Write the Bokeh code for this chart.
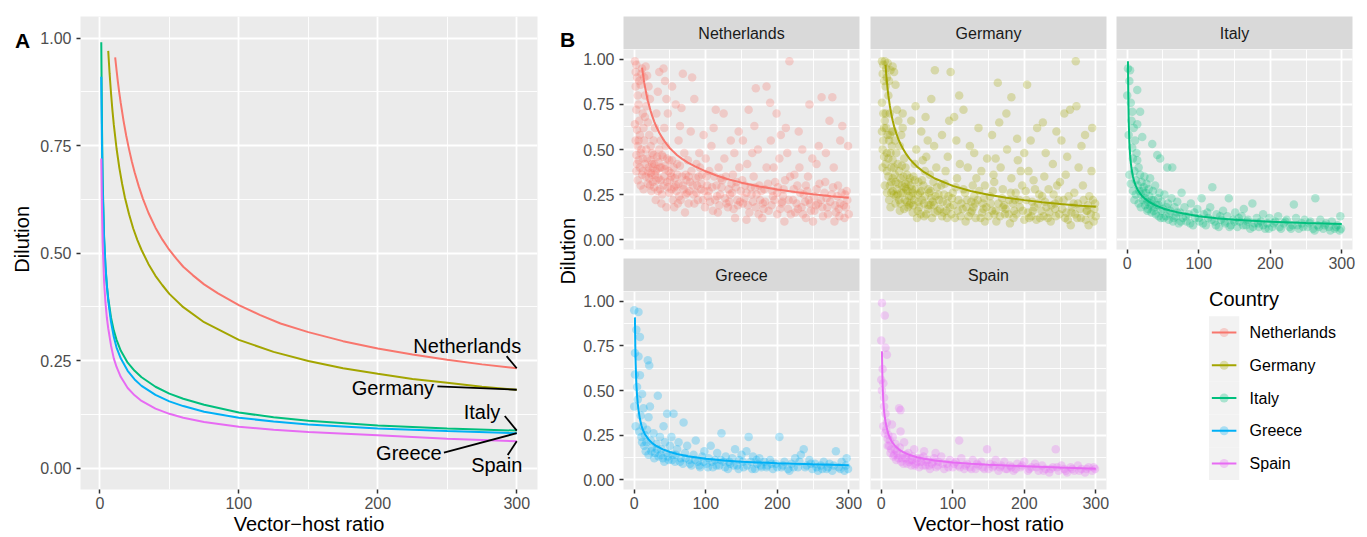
import math
from bokeh.plotting import figure
from bokeh.layouts import row, column
from bokeh.models import Range1d, FixedTicker, Label, PrintfTickFormatter
from bokeh.embed import file_html
from bokeh.resources import INLINE
from bokeh.core.properties import value

FONT = "Liberation Sans"

countries = ["Netherlands", "Germany", "Italy", "Greece", "Spain"]
colors = ["#F8766D", "#A3A500", "#00BF7D", "#00B0F6", "#E76BF3"]

x_ticks = [0, 100, 200, 300]
x_minor_ticks = [50, 150, 250]
y_ticks = [0.0, 0.25, 0.5, 0.75, 1.0]
y_minor_ticks = [0.125, 0.375, 0.625, 0.875]

# ---- fitted dilution curves ----
nl_curve_x = [11, 12, 13, 14, 15, 17, 19, 21, 23, 25, 28, 31, 35, 40, 45, 50, 55, 60, 67, 75, 85, 100,
              115, 130, 150, 175, 200, 225, 250, 275, 300]
nl_curve_y = [0.955, 0.925, 0.897, 0.872, 0.849, 0.808, 0.772, 0.741, 0.713, 0.688, 0.655, 0.626, 0.593,
              0.559, 0.531, 0.507, 0.487, 0.468, 0.448, 0.427, 0.406, 0.379, 0.356, 0.336, 0.316, 0.295,
              0.278, 0.264, 0.252, 0.241, 0.232]
de_curve_x = [6, 7, 8, 9, 10, 12, 14, 16, 18, 21, 24, 27, 30, 35, 40, 45, 50, 60, 75, 100, 125, 150, 175,
              200, 225, 250, 275, 300]
de_curve_y = [0.970, 0.917, 0.872, 0.833, 0.799, 0.743, 0.698, 0.661, 0.629, 0.590, 0.557, 0.530, 0.507,
              0.474, 0.447, 0.425, 0.405, 0.374, 0.339, 0.298, 0.270, 0.249, 0.232, 0.219, 0.207, 0.198,
              0.189, 0.182]
it_curve_x = [1, 1.5, 2, 3, 4, 5, 6, 8, 10, 12, 15, 20, 25, 30, 40, 50, 60, 75, 100, 125, 150, 200, 250, 300]
it_curve_y = [0.99, 0.80, 0.67, 0.54, 0.47, 0.425, 0.395, 0.35, 0.32, 0.298, 0.273, 0.245, 0.226, 0.211,
              0.189, 0.173, 0.161, 0.147, 0.129, 0.118, 0.110, 0.099, 0.092, 0.087]
gr_curve_x = [1, 1.5, 2, 3, 4, 5, 6, 8, 10, 12, 15, 20, 25, 30, 40, 50, 60, 75, 100, 125, 150, 200, 250, 300]
gr_curve_y = [0.91, 0.75, 0.65, 0.535, 0.47, 0.425, 0.39, 0.34, 0.305, 0.28, 0.255, 0.226, 0.206, 0.191,
              0.170, 0.155, 0.144, 0.131, 0.117, 0.108, 0.101, 0.092, 0.086, 0.081]
sp_curve_x = [1, 1.5, 2, 3, 4, 5, 6, 8, 10, 12, 15, 20, 25, 30, 40, 50, 60, 75, 100, 125, 150, 200, 250, 300]
sp_curve_y = [0.72, 0.60, 0.525, 0.435, 0.385, 0.35, 0.325, 0.285, 0.255, 0.235, 0.212, 0.186, 0.169, 0.156,
              0.138, 0.126, 0.117, 0.107, 0.096, 0.089, 0.084, 0.076, 0.068, 0.062]

nl_obs = [
    (1, .99), (2, .93), (3, .97), (4, .90), (2, .85), (5, .80), (3, .72), (6, .75), (1, .64), (4, .61),
    (7, .66), (2, .55), (5, .52), (8, .58), (3, .47), (6, .44), (9, .86), (10, .92), (11, .95), (12, .70),
    (13, .62), (10, .50), (14, .55), (8, .40), (12, .45), (15, .80), (11, .36), (7, .88), (14, .90), (15, .68),
    (16, .96), (18, .91), (20, .85), (22, .78), (17, .74), (19, .65), (21, .58), (23, .52), (25, .48), (18, .45),
    (20, .40), (24, .36), (26, .32), (22, .30), (28, .42), (30, .38), (27, .55), (29, .62), (31, .70), (33, .82),
    (35, .93), (32, .46), (34, .34), (36, .28), (38, .40), (37, .55), (39, .25), (24, .27), (30, .22), (35, .50),
    (41, .95), (43, .88), (45, .78), (47, .70), (42, .62), (44, .52), (46, .45), (48, .38), (50, .33), (52, .28),
    (54, .22), (56, .18), (58, .30), (60, .42), (62, .55), (64, .63), (66, .73), (68, .92), (70, .48), (72, .36),
    (74, .26), (76, .20), (78, .32), (41, .30), (49, .26), (55, .40), (63, .24), (67, .35), (71, .15), (75, .44),
    (79, .60), (53, .85), (58, .75), (45, .18), (61, .20),
    (81, .90), (84, .78), (87, .42), (90, .35), (93, .28), (96, .22), (99, .18), (102, .30), (105, .38), (108, .52),
    (111, .62), (114, .72), (117, .15), (120, .25), (123, .33), (126, .45), (129, .20), (132, .28), (135, .55), (138, .36),
    (141, .12), (144, .22), (147, .40), (84, .20), (91, .48), (97, .58), (103, .24), (110, .16), (118, .40), (125, .70),
    (131, .18), (137, .26), (143, .32), (149, .27), (88, .30), (100, .45), (115, .30), (128, .35), (140, .48), (146, .60),
    (152, .20), (155, .30), (158, .42), (161, .15), (164, .25), (167, .35), (170, .18), (173, .50), (176, .22), (179, .12),
    (182, .28), (185, .40), (188, .16), (191, .55), (194, .24), (197, .32), (200, .14), (203, .45), (206, .20), (209, .28),
    (212, .62), (215, .17), (218, .35), (217, .99), (160, .72), (170, .84), (190, .76), (205, .58), (165, .48), (180, .20),
    (195, .40), (210, .10), (157, .11), (175, .30), (200, .26), (185, .85), (199, .70), (214, .48), (152, .55), (168, .63),
    (222, .22), (225, .15), (228, .30), (231, .40), (234, .18), (237, .25), (240, .12), (243, .35), (246, .20), (249, .45),
    (252, .16), (255, .28), (258, .52), (261, .22), (264, .13), (267, .32), (270, .18), (273, .66), (276, .25), (279, .40),
    (282, .15), (285, .30), (288, .20), (291, .63), (294, .12), (297, .27), (299, .52), (262, .79), (277, .79), (245, .75),
    (230, .60), (255, .42), (288, .55), (268, .48), (224, .36), (240, .30), (280, .10), (296, .18), (250, .10), (235, .50),
    (3, .38), (5, .33), (9, .30), (13, .28), (16, .35), (19, .31), (23, .44), (26, .40), (28, .29), (31, .33),
    (33, .27), (36, .40), (38, .20), (40, .46), (42, .35), (44, .41), (47, .29), (51, .37), (53, .44), (57, .34),
    (59, .27), (62, .31), (65, .22), (69, .28), (73, .33), (77, .27), (80, .38), (83, .25), (86, .34), (89, .22),
    (92, .40), (94, .31), (98, .27), (101, .35), (106, .21), (109, .29), (112, .35), (116, .24), (119, .19), (122, .29),
    (127, .23), (133, .21), (136, .31), (139, .17), (142, .29), (148, .21), (151, .33), (154, .23), (159, .19), (163, .29),
    (166, .21), (171, .25), (174, .14), (178, .27), (183, .21), (187, .31), (192, .19), (196, .22), (201, .29), (204, .17),
    (208, .24), (211, .33), (216, .22), (219, .14), (223, .28), (227, .20), (232, .26), (236, .14), (239, .21), (242, .27),
    (247, .16), (251, .24), (254, .19), (259, .31), (263, .18), (266, .26), (271, .14), (274, .21), (278, .29), (281, .19),
    (284, .24), (287, .13), (290, .26), (293, .19), (298, .22), (300, .14),
    (4, .42), (6, .55), (9, .48), (12, .38), (15, .42), (17, .50), (19, .38), (21, .34), (23, .37), (25, .42),
    (27, .47), (29, .36), (32, .39), (34, .43), (37, .33), (39, .47), (43, .39), (46, .32), (49, .44), (52, .35),
    (56, .29), (60, .36), (64, .41), (68, .30), (72, .25), (76, .35), (82, .30), (87, .26), (95, .36), (104, .27),
    (113, .22), (121, .34), (134, .25), (145, .19), (157, .26), (169, .29), (181, .17), (193, .27), (207, .21), (229, .17),
    (244, .22), (257, .20), (269, .23), (286, .17), (295, .25),
]
de_obs = [
    (1, .99), (3, .97), (5, .99), (7, .95), (9, .98), (2, .92), (4, .88), (6, .85), (8, .90), (10, .80),
    (1, .76), (3, .70), (5, .66), (7, .62), (9, .58), (11, .55), (2, .50), (4, .46), (6, .42), (8, .38),
    (10, .35), (12, .70), (13, .48), (14, .40), (15, .60), (11, .88), (13, .94), (15, .52), (12, .30), (14, .32),
    (16, .96), (18, .93), (20, .86), (22, .72), (24, .66), (17, .60), (19, .55), (21, .48), (23, .42), (25, .38),
    (27, .34), (29, .30), (31, .26), (33, .22), (35, .28), (16, .34), (18, .25), (20, .20), (26, .52), (28, .58),
    (30, .62), (32, .45), (34, .40), (36, .36), (38, .32), (37, .18), (39, .24), (22, .28), (26, .16), (30, .70),
    (41, .20), (43, .28), (45, .35), (47, .42), (49, .50), (51, .25), (53, .18), (55, .14), (57, .22), (59, .30),
    (61, .38), (63, .46), (65, .55), (67, .26), (69, .19), (71, .12), (73, .32), (75, .94), (77, .40), (79, .16),
    (42, .66), (48, .74), (56, .60), (62, .68), (70, .78), (44, .15), (52, .32), (60, .13), (68, .36), (76, .24),
    (46, .22), (58, .44), (66, .28), (74, .52), (50, .12),
    (81, .22), (84, .30), (87, .15), (90, .38), (93, .46), (96, .18), (97, .93), (100, .26), (103, .12), (106, .34),
    (109, .80), (112, .20), (115, .28), (118, .10), (121, .40), (124, .52), (127, .16), (130, .24), (133, .34), (136, .62),
    (139, .12), (142, .20), (145, .30), (148, .45), (85, .58), (95, .66), (105, .55), (115, .72), (125, .15), (135, .22),
    (145, .10), (88, .25), (110, .42), (130, .48), (140, .38), (92, .12), (120, .22), (102, .68), (128, .30), (147, .18),
    (152, .24), (155, .16), (158, .32), (161, .10), (163, .87), (164, .20), (167, .40), (170, .28), (173, .14), (176, .50),
    (179, .22), (182, .79), (182, .34), (185, .12), (188, .26), (191, .44), (194, .18), (197, .30), (200, .11), (203, .22),
    (204, .86), (206, .38), (209, .55), (212, .16), (215, .28), (218, .62), (155, .58), (165, .65), (175, .70), (190, .56),
    (160, .45), (170, .18), (195, .38), (210, .13), (200, .48), (180, .09), (157, .36), (186, .16), (213, .33), (219, .20),
    (222, .12), (225, .24), (228, .35), (231, .18), (234, .28), (237, .10), (240, .42), (243, .20), (246, .30), (249, .14),
    (252, .55), (255, .22), (258, .36), (261, .11), (264, .72), (267, .18), (270, .26), (272, .99), (273, .74), (276, .40),
    (279, .12), (282, .30), (285, .58), (288, .16), (291, .24), (294, .38), (297, .10), (299, .20), (230, .48), (245, .60),
    (260, .46), (280, .52), (295, .62), (235, .15), (250, .32), (265, .08), (275, .20), (290, .08), (226, .65), (256, .70),
    (2, .40), (5, .30), (8, .26), (11, .22), (13, .18), (16, .27), (19, .36), (21, .24), (24, .31), (27, .20),
    (29, .41), (32, .17), (34, .31), (37, .27), (40, .34), (42, .24), (45, .19), (48, .28), (51, .16), (54, .26),
    (57, .33), (60, .20), (63, .14), (66, .19), (69, .27), (72, .21), (75, .15), (78, .29), (82, .17), (86, .21),
    (89, .31), (91, .16), (94, .24), (98, .14), (101, .19), (104, .29), (108, .22), (111, .13), (114, .17), (117, .26),
    (122, .13), (126, .21), (129, .18), (132, .12), (137, .27), (141, .15), (144, .23), (150, .13), (153, .20), (156, .27),
    (160, .16), (166, .13), (169, .23), (172, .19), (178, .14), (181, .26), (184, .20), (189, .14), (193, .22), (198, .16),
    (202, .27), (207, .12), (211, .21), (214, .18), (217, .11), (221, .25), (224, .16), (229, .21), (233, .12), (238, .19),
    (241, .25), (244, .13), (248, .22), (253, .17), (257, .12), (262, .24), (266, .15), (269, .20), (274, .12), (278, .17),
    (283, .22), (286, .11), (289, .19), (293, .14), (296, .22), (300, .13),
    (1, .60), (3, .55), (4, .62), (6, .70), (8, .48), (10, .45), (12, .58), (14, .26), (16, .44), (18, .40),
    (20, .32), (23, .25), (25, .22), (28, .26), (31, .35), (33, .29), (36, .21), (39, .19), (41, .30), (44, .26),
    (47, .33), (52, .21), (56, .27), (61, .24), (65, .17), (70, .23), (74, .19), (80, .25), (85, .13), (92, .20),
    (99, .23), (107, .16), (119, .18), (131, .20), (143, .17), (158, .14), (174, .17), (187, .22), (205, .15), (227, .13),
    (243, .17), (259, .15), (271, .14), (287, .16), (298, .17),
]
it_obs = [
    (0, .80), (1, .95), (2, .58), (3, .88), (4, .94), (5, .76), (6, .66), (7, .71), (7, .51), (8, .45),
    (9, .62), (10, .38), (11, .55), (12, .33), (13, .48), (14, .83), (14, .64), (14, .44), (15, .30), (16, .40),
    (17, .27), (18, .71), (18, .36), (19, .25), (20, .32), (21, .57), (22, .22), (23, .29), (24, .35), (25, .19),
    (26, .26), (27, .31), (28, .21), (29, .17), (30, .28), (31, .24), (32, .34), (33, .20), (34, .15), (35, .53),
    (36, .27), (37, .22), (38, .18), (39, .30), (40, .14), (42, .47), (43, .23), (44, .19), (45, .26), (46, .45),
    (47, .12), (48, .21), (50, .17), (52, .25), (54, .13), (56, .40), (57, .20), (58, .11), (60, .16), (62, .23),
    (63, .40), (64, .10), (66, .18), (68, .13), (70, .21), (72, .09), (74, .15), (76, .26), (78, .12), (80, .18),
    (83, .10), (86, .14), (89, .20), (92, .08), (95, .12), (98, .17), (101, .10), (104, .23), (107, .14), (110, .08),
    (113, .12), (116, .18), (119, .29), (122, .10), (125, .14), (128, .07), (131, .11), (134, .16), (137, .09), (140, .13),
    (142, .23), (145, .08), (148, .11), (151, .15), (154, .07), (157, .10), (160, .13), (163, .17), (166, .08), (169, .11),
    (172, .06), (175, .20), (178, .09), (181, .12), (184, .07), (187, .10), (190, .14), (193, .06), (196, .09), (199, .12),
    (203, .07), (207, .10), (211, .13), (215, .06), (219, .09), (223, .11), (227, .07), (231, .08), (233, .195), (236, .12),
    (240, .06), (244, .09), (248, .11), (252, .07), (256, .10), (260, .06), (263, .23), (266, .08), (270, .11), (274, .06),
    (278, .09), (282, .07), (286, .10), (290, .06), (294, .08), (298, .13), (297, .05),
    (3, .36), (5, .31), (8, .27), (10, .22), (12, .25), (16, .20), (19, .18), (22, .27), (25, .23), (28, .16),
    (31, .19), (34, .22), (37, .16), (41, .19), (44, .13), (48, .16), (51, .12), (55, .18), (59, .14), (65, .12),
    (70, .15), (75, .10), (82, .13), (88, .09), (94, .15), (100, .12), (106, .09), (112, .15), (118, .11), (124, .08),
    (130, .13), (136, .10), (143, .07), (150, .10), (156, .12), (162, .08), (168, .10), (176, .07), (183, .09), (190, .08),
    (198, .06), (205, .09), (213, .07), (221, .10), (229, .06), (238, .08), (246, .07), (255, .09), (262, .05), (268, .07),
    (276, .08), (284, .05), (292, .07), (299, .06),
]
gr_obs = [
    (0, .95), (6, .94), (3, .84), (8, .80), (1, .71), (6, .69), (1, .59), (8, .585), (4, .52), (11, .48),
    (0, .41), (19, .67), (21, .64), (33, .47), (13, .40), (22, .41), (20, .35), (46, .37), (55, .37), (69, .32),
    (41, .30), (5, .45), (9, .36), (12, .30), (15, .25), (17, .21), (10, .24), (14, .19), (18, .28), (23, .22),
    (25, .18), (27, .26), (29, .15), (31, .20), (34, .13), (36, .24), (38, .17), (40, .12), (43, .21), (45, .15),
    (48, .11), (50, .19), (52, .24), (54, .14), (57, .10), (60, .17), (62, .21), (65, .12), (68, .09), (71, .15),
    (74, .19), (77, .11), (80, .08), (83, .14), (86, .22), (89, .10), (92, .07), (95, .13), (98, .16), (101, .09),
    (104, .12), (107, .19), (110, .07), (113, .11), (116, .15), (119, .08), (122, .26), (125, .10), (128, .13), (131, .06),
    (134, .09), (137, .12), (141, .17), (144, .08), (147, .11), (150, .14), (153, .07), (157, .16), (160, .24), (163, .10),
    (166, .13), (169, .06), (172, .09), (175, .12), (178, .07), (182, .10), (186, .08), (190, .11), (194, .06), (198, .09),
    (203, .24), (206, .07), (210, .10), (215, .06), (220, .09), (225, .12), (229, .07), (233, .14), (237, .17), (241, .08),
    (245, .11), (249, .06), (253, .09), (257, .05), (261, .08), (265, .10), (269, .06), (273, .09), (277, .05), (282, .16),
    (286, .07), (290, .10), (294, .05), (297, .12), (299, .06),
    (2, .30), (7, .27), (11, .21), (16, .16), (20, .14), (24, .16), (28, .12), (32, .17), (37, .14), (42, .10),
    (47, .13), (53, .11), (58, .14), (64, .10), (72, .12), (78, .09), (85, .11), (91, .08), (97, .10), (103, .07),
    (109, .10), (115, .08), (121, .11), (127, .07), (133, .10), (139, .08), (146, .06), (152, .10), (158, .08), (165, .06),
    (171, .11), (177, .08), (185, .07), (192, .09), (200, .07), (208, .08), (217, .05), (223, .07), (231, .10), (239, .07),
    (247, .09), (255, .07), (263, .06), (271, .07), (279, .08), (288, .06), (296, .08),
]
sp_obs = [
    (1, .99), (5, .92), (0, .78), (6, .74), (8, .70), (0, .56), (3, .54), (1, .50), (4, .41), (6, .37),
    (25, .40), (27, .39), (8, .32), (15, .31), (27, .27), (109, .22), (148, .17), (244, .17), (76, .15), (60, .16),
    (2, .62), (4, .46), (7, .28), (10, .25), (12, .22), (9, .19), (14, .17), (16, .24), (18, .14), (20, .20),
    (22, .16), (24, .12), (26, .18), (28, .10), (30, .14), (32, .21), (34, .12), (36, .09), (38, .15), (40, .11),
    (42, .08), (44, .13), (46, .17), (48, .09), (50, .12), (53, .07), (56, .10), (59, .13), (62, .08), (65, .11),
    (68, .06), (71, .09), (74, .12), (77, .07), (80, .10), (84, .13), (88, .06), (92, .09), (96, .11), (100, .07),
    (104, .10), (108, .08), (112, .12), (116, .06), (120, .09), (124, .07), (128, .11), (132, .06), (136, .08), (140, .10),
    (144, .06), (152, .09), (156, .07), (160, .11), (164, .05), (168, .08), (172, .10), (176, .06), (180, .08), (185, .05),
    (190, .09), (195, .07), (200, .10), (205, .05), (210, .07), (215, .09), (220, .05), (225, .08), (230, .06), (235, .04),
    (240, .07), (248, .05), (252, .08), (256, .06), (260, .04), (265, .07), (270, .05), (275, .08), (280, .06), (285, .04),
    (290, .07), (295, .05), (299, .06),
    (3, .30), (5, .26), (9, .23), (11, .19), (13, .15), (17, .13), (19, .17), (21, .11), (23, .14), (29, .12),
    (31, .09), (35, .14), (39, .10), (43, .11), (47, .08), (51, .10), (55, .12), (58, .08), (63, .10), (67, .08),
    (73, .10), (79, .08), (86, .09), (94, .07), (102, .09), (110, .07), (118, .08), (126, .06), (134, .09), (142, .07),
    (150, .06), (158, .08), (166, .07), (174, .06), (182, .07), (188, .06), (197, .08), (207, .06), (217, .07), (227, .05),
    (237, .06), (246, .07), (258, .05), (267, .06), (277, .05), (287, .06), (297, .07),
]

curves = [(nl_curve_x, nl_curve_y), (de_curve_x, de_curve_y), (it_curve_x, it_curve_y),
          (gr_curve_x, gr_curve_y), (sp_curve_x, sp_curve_y)]
observations = [nl_obs, de_obs, it_obs, gr_obs, sp_obs]

# ---- layout constants for panel A labels (ggrepel style) ----
label_x = [264.4, 210.9, 275.0, 222.4, 285.6]
label_y = [0.284, 0.186, 0.131, 0.034, 0.006]
leader_x0 = [292.7, 242.9, 291.4, 247.6, 293.5]
leader_y0 = [0.260, 0.190, 0.121, 0.036, 0.030]

TICK_COLOR = "#333333"
LABEL_COLOR = "#4D4D4D"
H = 537


def make_panel(width, height, left, right, top, bottom, xr, yr, show_x, show_y, xlabel=None):
    p = figure(width=width, height=height, x_range=xr, y_range=yr,
               toolbar_location=None, output_backend="svg",
               min_border_left=left, min_border_right=right,
               min_border_top=top, min_border_bottom=bottom)
    p.outline_line_color = None
    p.border_fill_color = "white"
    p.background_fill_color = "#EBEBEB"
    xt = FixedTicker(ticks=x_ticks, minor_ticks=x_minor_ticks)
    yt = FixedTicker(ticks=y_ticks, minor_ticks=y_minor_ticks)
    p.xaxis.ticker = xt
    p.xgrid.ticker = xt
    p.yaxis.ticker = yt
    p.ygrid.ticker = yt
    for g in (p.xgrid, p.ygrid):
        g.grid_line_color = "white"
        g.grid_line_width = 1.8
        g.minor_grid_line_color = "white"
        g.minor_grid_line_width = 0.9
    p.yaxis.formatter = PrintfTickFormatter(format="%.2f")
    for ax in (p.xaxis, p.yaxis):
        ax.axis_line_color = None
        ax.major_tick_line_color = TICK_COLOR
        ax.major_tick_line_width = 1.5
        ax.major_tick_out = 4
        ax.major_tick_in = 0
        ax.minor_tick_line_color = None
        ax.major_label_text_font = FONT
        ax.major_label_text_font_size = "16px"
        ax.major_label_text_color = LABEL_COLOR
        ax.axis_label_text_font = FONT
        ax.axis_label_text_font_size = "20px"
        ax.axis_label_text_font_style = "normal"
        ax.axis_label_text_color = "black"
        ax.axis_label_standoff = 1
    p.xaxis.major_label_standoff = 3
    p.yaxis.major_label_standoff = 5
    p.xaxis.visible = show_x
    p.yaxis.visible = show_y
    if xlabel is not None:
        p.xaxis.axis_label = xlabel
    return p


def make_blank(width, height, xr, yr, left=0, right=0, top=0, bottom=0, bg="white"):
    p = figure(width=width, height=height, x_range=xr, y_range=yr,
               toolbar_location=None, output_backend="svg",
               x_axis_location=None, y_axis_location=None,
               min_border_left=left, min_border_right=right,
               min_border_top=top, min_border_bottom=bottom)
    p.grid.visible = False
    p.outline_line_color = None
    p.background_fill_color = bg
    p.border_fill_color = "white"
    return p


def make_strip(text, width, height, left, right, top):
    s = make_blank(width, height, Range1d(0, 1), Range1d(0, 1), left, right, top, 0, bg="#D9D9D9")
    s.add_layout(Label(x=0.5, y=0.5, text=text, text_align="center", text_baseline="middle",
                       text_font=FONT, text_font_size="16px", text_color="#1A1A1A"))
    return s


# ---------------- Panel A ----------------
tA = make_blank(34, H, Range1d(0, 34), Range1d(0, H))
tA.text(x=[22], y=[H - 27.5], text=["A"], text_font=value(FONT), text_font_size="21px",
        text_font_style=value("bold"), text_align="center", text_baseline="middle", text_color="black")
tA.text(x=[21], y=[H - 253], text=["Dilution"], angle=math.pi / 2, text_font=value(FONT),
        text_font_size="20px", text_align="center", text_baseline="middle", text_color="black")

pA = make_panel(524, H, 46, 21, 16, 47, Range1d(-13.95, 314.95), Range1d(-0.05, 1.05),
                True, True, xlabel="Vector\u2212host ratio")
for (cx, cy), col in zip(curves, colors):
    pA.line(cx, cy, line_color=col, line_width=2)
pA.segment(x0=leader_x0, y0=leader_y0,
           x1=[c[0][-1] for c in curves], y1=[c[1][-1] for c in curves],
           line_color="black", line_width=1.8)
pA.text(x=label_x, y=label_y, text=countries, text_font=value(FONT), text_font_size="20px",
        text_align="center", text_baseline="middle", text_color="black")

# ---------------- Panel B ----------------
tB = make_blank(22, H, Range1d(0, 22), Range1d(0, H))
tB.text(x=[9], y=[H - 26.5], text=["B"], text_font=value(FONT), text_font_size="21px",
        text_font_style=value("bold"), text_align="center", text_baseline="middle", text_color="black")
tB.text(x=[9], y=[H - 266.5], text=["Dilution"], angle=math.pi / 2, text_font=value(FONT),
        text_font_size="20px", text_align="center", text_baseline="middle", text_color="black")


def facet(i, width, height, left, right, bottom, show_x, show_y, xlabel=None):
    p = make_panel(width, height, left, right, 0, bottom, Range1d(-15, 315), Range1d(-0.055, 1.055),
                   show_x, show_y, xlabel)
    ox = [pt[0] for pt in observations[i]]
    oy = [pt[1] for pt in observations[i]]
    p.scatter(ox, oy, size=8.5, fill_color=colors[i], fill_alpha=0.28, line_color=None)
    cx, cy = curves[i]
    p.line(cx, cy, line_color=colors[i], line_width=2)
    return p


sN = make_strip(countries[0], 282, 49, 43, 3, 16)
fN = facet(0, 282, 209, 43, 3, 9, False, True)
sGr = make_strip(countries[3], 282, 33, 43, 3, 0)
fGr = facet(3, 282, 246, 43, 3, 47, True, True, xlabel=" ")
colN = column(sN, fN, sGr, fGr)

sG = make_strip(countries[1], 247, 49, 8, 3, 16)
fG = facet(1, 247, 209, 8, 3, 9, False, False)
sS = make_strip(countries[4], 247, 33, 8, 3, 0)
fS = facet(4, 247, 246, 8, 3, 47, True, False, xlabel="Vector\u2212host ratio")
colG = column(sG, fG, sS, fS)

sI = make_strip(countries[2], 250, 49, 7, 7, 16)
fI = facet(2, 250, 225, 7, 7, 25, True, False)

# legend panel (coordinates: x = page_x - 1109, y = 537 - page_y)
LEG_H = H - 49 - 225
leg = make_blank(250, LEG_H, Range1d(0, 250), Range1d(0, LEG_H))
key_y = [H - (332 + 32.75 * i) for i in range(len(countries))]
leg.text(x=[98], y=[H - 298], text=["Country"], text_font=value(FONT), text_font_size="20px",
         text_align="left", text_baseline="middle", text_color="black")
leg.rect(x=[114] * len(countries), y=key_y, width=32, height=32.75, fill_color="#F2F2F2", line_color=None)
leg.scatter(x=[114] * len(countries), y=key_y, size=9, fill_color=colors, fill_alpha=0.3, line_color=None)
leg.segment(x0=[101] * len(countries), x1=[127] * len(countries), y0=key_y, y1=key_y,
            line_color=colors, line_width=2)
leg.text(x=[141] * len(countries), y=key_y, text=countries, text_font=value(FONT),
         text_font_size="16px", text_align="left", text_baseline="middle", text_color="black")
colI = column(sI, fI, leg)

layout = row(tA, pA, tB, colN, colG, colI)

open("out.html", "w").write(file_html(layout, INLINE))
